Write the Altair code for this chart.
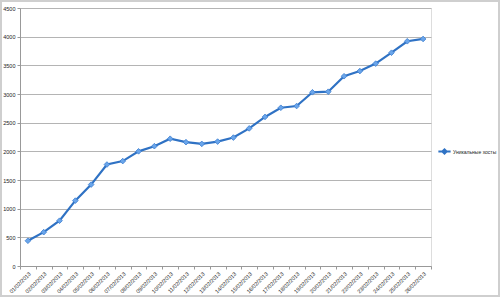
import altair as alt
import pandas as pd

dates = [f"{d:02d}/02/2013" for d in range(1, 27)]
values = [440, 590, 790, 1140, 1420, 1770, 1830, 2000, 2090, 2220,
          2160, 2130, 2170, 2240, 2400, 2600, 2760, 2790, 3030, 3040,
          3310, 3400, 3530, 3720, 3920, 3960]
series = "Уникальные хосты"

df = pd.DataFrame({"date": dates, "value": values, "series": series})

FONT = "Liberation Sans"

x = alt.X("date:N", sort=dates, title=None,
          scale=alt.Scale(paddingInner=0, paddingOuter=0),
          axis=alt.Axis(labelAngle=-45, labelFontSize=5.5, labelFont=FONT,
                        labelColor="#222222", tickBand="extent", tickSize=3,
                        tickColor="#999999", domainColor="#999999",
                        labelPadding=2, grid=False))
y = alt.Y("value:Q", title=None,
          scale=alt.Scale(domain=[0, 4500], nice=False),
          axis=alt.Axis(values=list(range(0, 4501, 500)), format="d",
                        labelFontSize=5.5,
                        labelFont=FONT, labelColor="#222222", tickSize=3,
                        tickColor="#999999", domainColor="#999999",
                        gridColor="#b4b4b4", gridWidth=1, labelPadding=2))

color = alt.Color("series:N", title=None,
                  scale=alt.Scale(range=["#2f72c4"]),
                  legend=alt.Legend(orient="none", legendX=417, legendY=136,
                                    labelFontSize=5, labelFont=FONT,
                                    labelColor="#222222", labelLimit=80,
                                    symbolType="M-1,0L1,0M-0.35,0L0,-0.35L0.35,0L0,0.35Z",
                                    symbolSize=150, symbolStrokeWidth=2,
                                    symbolFillColor="#6aa5ea",
                                    labelOffset=1, padding=0))

line = alt.Chart(df).mark_line(strokeWidth=2.2).encode(x=x, y=y, color=color)
pts = alt.Chart(df).mark_point(shape="diamond", filled=True, size=32,
                               fill="#6aa5ea", stroke="#3b7dd0",
                               strokeWidth=0.8, opacity=1).encode(x=x, y=y)

frame = alt.Chart(df).mark_rect(fill=None, stroke="#cfcfcf", strokeWidth=2).encode(
    x=alt.value(-19), x2=alt.value(479), y=alt.value(-7), y2=alt.value(288))

chart = alt.layer(frame, line, pts).properties(
    width=411, height=258,
    padding={"left": 20, "top": 8, "right": 69, "bottom": 31},
    autosize=alt.AutoSizeParams(type="none"),
).configure_view(stroke=None).configure(background="white")

chart.save("out.html", embed_options={"renderer": "svg", "actions": False})
